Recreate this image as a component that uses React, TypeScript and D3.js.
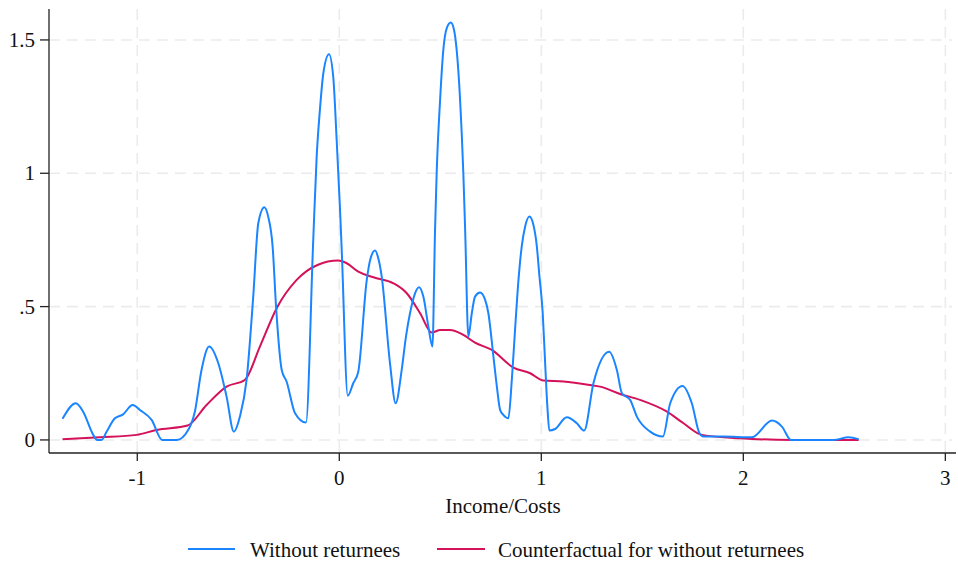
import React from "react";
import * as d3 from "d3";

const W = 958;
const H = 563;

// Blue series: "Without returnees"
const blueX = [
  -1.37, -1.304, -1.268, -1.218, -1.199, -1.177, -1.152, -1.111, -1.07, -1.023, -0.987, -0.929, -0.877, -0.805,
  -0.748, -0.715, -0.682, -0.644, -0.599, -0.558, -0.522, -0.492, -0.459, -0.426, -0.401, -0.371, -0.352, -0.33,
  -0.313, -0.285, -0.261, -0.219, -0.165, -0.129, -0.112, -0.096, -0.079, -0.051, -0.03, -0.013, 0.003, 0.012,
  0.042, 0.069, 0.094, 0.136, 0.155, 0.177, 0.193, 0.21, 0.251, 0.279, 0.309, 0.33, 0.35, 0.375, 0.395, 0.416,
  0.441, 0.461, 0.474, 0.482, 0.499, 0.515, 0.532, 0.552, 0.568, 0.581, 0.598, 0.614, 0.623, 0.639, 0.656, 0.672,
  0.697, 0.722, 0.738, 0.763, 0.78, 0.796, 0.812, 0.837, 0.854, 0.87, 0.887, 0.903, 0.92, 0.941, 0.961, 0.978,
  0.99, 1.007, 1.019, 1.03, 1.04, 1.068, 1.126, 1.176, 1.212, 1.258, 1.336, 1.374, 1.399, 1.44, 1.473, 1.539,
  1.602, 1.638, 1.699, 1.745, 1.783, 1.803, 1.902, 2.043, 2.142, 2.191, 2.236, 2.447, 2.521, 2.571,
];
const blueY = [
  0.079, 0.1375, 0.106, 0.019, 0.0, 0.0, 0.031, 0.081, 0.096, 0.131, 0.1125, 0.075, 0.0, 0.0,
  0.0375, 0.106, 0.2625, 0.35, 0.2875, 0.1625, 0.031, 0.0875, 0.225, 0.5375, 0.8125, 0.8725, 0.8375, 0.725,
  0.5, 0.2625, 0.219, 0.1, 0.065, 0.75, 1.0625, 1.2375, 1.375, 1.446, 1.362, 1.125, 0.875, 0.7125,
  0.166, 0.2125, 0.256, 0.6, 0.681, 0.71, 0.681, 0.6125, 0.2875, 0.1375, 0.2625, 0.3875, 0.475, 0.55, 0.5725, 0.5375,
  0.425, 0.35, 0.7875, 1.0, 1.275, 1.4625, 1.544, 1.565, 1.5375, 1.4625, 1.275, 1.0, 0.7875, 0.3875, 0.475, 0.5375,
  0.5525, 0.525, 0.475, 0.3125, 0.2, 0.1125, 0.094, 0.081, 0.225, 0.4125, 0.6, 0.725, 0.8, 0.8375, 0.806, 0.725,
  0.62, 0.475, 0.2875, 0.125, 0.035, 0.041, 0.085, 0.0625, 0.035, 0.2125, 0.331, 0.2625, 0.175, 0.15, 0.0875, 0.031,
  0.0125, 0.1375, 0.2025, 0.1375, 0.025, 0.0125, 0.0125, 0.01, 0.0725, 0.05, 0.0, 0.0, 0.01, 0.0025,
];

// Red series: "Counterfactual for without returnees"
const redX = [
  -1.37, -1.185, -1.003, -0.904, -0.751, -0.657, -0.558, -0.468, -0.393, -0.31, -0.211, -0.108, -0.005, 0.037,
  0.094, 0.169, 0.268, 0.334, 0.4, 0.458, 0.5, 0.548, 0.614, 0.672, 0.755, 0.862, 0.945, 1.01, 1.11, 1.242,
  1.291, 1.39, 1.489, 1.622, 1.704, 1.795, 1.985, 2.249, 2.571,
];
const redY = [
  0.0025, 0.01, 0.019, 0.0375, 0.054, 0.131, 0.2, 0.225, 0.35, 0.494, 0.6, 0.656, 0.6725, 0.6625,
  0.631, 0.61, 0.5875, 0.55, 0.475, 0.4025, 0.4125, 0.4125, 0.394, 0.365, 0.3375, 0.271, 0.25, 0.2225, 0.219, 0.206,
  0.2, 0.1725, 0.15, 0.106, 0.0625, 0.019, 0.006, 0.0, 0.0,
];

const xTicks = [-1, 0, 1, 2, 3];
const xTickLabels = ["-1", "0", "1", "2", "3"];
const yTicks = [0, 0.5, 1, 1.5];
const yTickLabels = ["0", ".5", "1", "1.5"];

const seriesNames = ["Without returnees", "Counterfactual for without returnees"];
const seriesColors = ["#1a85ff", "#d41159"];

export default function App() {
  const left = 49;
  const right = 952;
  const top = 9;
  const bottom = 453;
  const x = d3.scaleLinear().domain([-1.437, 3.033]).range([left, right]);
  const y = d3.scaleLinear().domain([-0.049, 1.616]).range([bottom, top]);

  const line = d3
    .line<[number, number]>()
    .x((d) => x(d[0]))
    .y((d) => y(d[1]))
    .curve(d3.curveMonotoneX);

  const blue = blueX.map((v, i) => [v, blueY[i]] as [number, number]);
  const red = redX.map((v, i) => [v, redY[i]] as [number, number]);

  const font = "'Liberation Serif', 'Times New Roman', serif";
  const grid = "#ebebeb";

  return (
    <svg
      width={W}
      height={H}
      style={{ position: "absolute", left: 0, top: 0, display: "block", background: "#fff" }}
      fontFamily={font}
    >
      {/* gridlines */}
      {yTicks.map((t) => (
        <line key={"gy" + t} x1={left} x2={right} y1={y(t)} y2={y(t)} stroke={grid} strokeWidth={1.6} strokeDasharray="11,7" />
      ))}
      {xTicks.map((t) => (
        <line key={"gx" + t} x1={x(t)} x2={x(t)} y1={top} y2={bottom} stroke={grid} strokeWidth={1.6} strokeDasharray="11,7" />
      ))}

      {/* axes */}
      <line x1={left} x2={left} y1={top} y2={bottom} stroke="#222" strokeWidth={1.3} />
      <line x1={left} x2={956} y1={bottom} y2={bottom} stroke="#222" strokeWidth={1.3} />
      {yTicks.map((t, i) => (
        <g key={"ty" + t}>
          <line x1={left - 9} x2={left} y1={y(t)} y2={y(t)} stroke="#222" strokeWidth={1.3} />
          <text x={35} y={y(t)} dy="0.33em" textAnchor="end" fontSize={21} fill="#111">
            {yTickLabels[i]}
          </text>
        </g>
      ))}
      {xTicks.map((t, i) => (
        <g key={"tx" + t}>
          <line x1={x(t)} x2={x(t)} y1={bottom} y2={bottom + 8} stroke="#222" strokeWidth={1.3} />
          <text x={x(t)} y={485} textAnchor="middle" fontSize={21} fill="#111">
            {xTickLabels[i]}
          </text>
        </g>
      ))}
      <text x={503} y={513} textAnchor="middle" fontSize={21} fill="#111">
        Income/Costs
      </text>

      {/* series */}
      <path d={line(red) || ""} fill="none" stroke={seriesColors[1]} strokeWidth={2} strokeLinejoin="round" />
      <path d={line(blue) || ""} fill="none" stroke={seriesColors[0]} strokeWidth={2} strokeLinejoin="round" />

      {/* legend */}
      <line x1={188} x2={235} y1={549} y2={549} stroke={seriesColors[0]} strokeWidth={2} />
      <text x={250} y={557} fontSize={21} fill="#111">
        {seriesNames[0]}
      </text>
      <line x1={437} x2={485} y1={549} y2={549} stroke={seriesColors[1]} strokeWidth={2} />
      <text x={498} y={557} fontSize={21} fill="#111">
        {seriesNames[1]}
      </text>
    </svg>
  );
}
